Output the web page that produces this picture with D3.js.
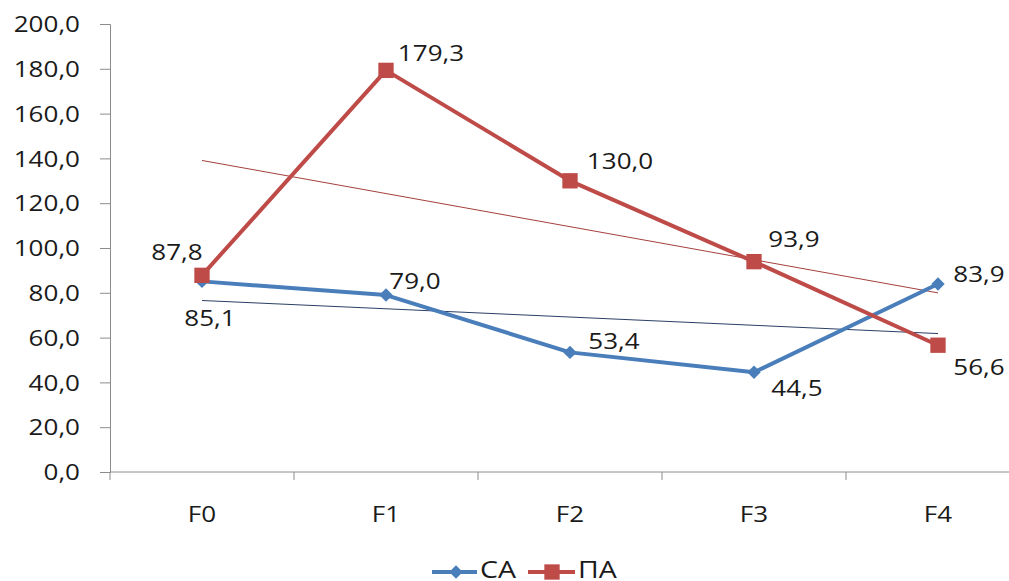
<!DOCTYPE html>
<html>
<head>
<meta charset="utf-8">
<script src="https://cdn.jsdelivr.net/npm/d3@7"></script>
<style>
  html, body { margin: 0; padding: 0; background: #fff; }
  svg { display: block; }
  text { font-family: "Open Sans", "Noto Sans", sans-serif; fill: #1a1a1a; }
</style>
</head>
<body>
<svg id="chart" width="1009" height="581"></svg>
<script>
// Categories and series values
const categories = ["F0", "F1", "F2", "F3", "F4"];
const seriesCA = [85.1, 79.0, 53.4, 44.5, 83.9];
const seriesPA = [87.8, 179.3, 130.0, 93.9, 56.6];
const seriesNames = ["СА", "ПА"];
const yTicks = [0, 20, 40, 60, 80, 100, 120, 140, 160, 180, 200];

const svg = d3.select("#chart");
const plot = { left: 110, right: 1030, top: 24, bottom: 472 };
const SX = 1.24; // horizontal stretch of the lettering

const x = d3.scaleBand().domain(categories).range([plot.left, plot.right]);
const y = d3.scaleLinear().domain([0, 200]).range([plot.bottom, plot.top]);
const cx = c => x(c) + x.bandwidth() / 2;
const fmt = v => d3.format(".1f")(v).replace(".", ",");

// Place a text at (px, py) with the wide lettering
function widen(sel, px, py) {
  sel.attr("transform", (d, i) => `translate(${px(d, i)},${py(d, i)}) scale(${SX},1)`)
     .attr("x", 0).attr("y", 0);
}

const axisColor = "#8c8c8c";

// Y axis
const yAxis = d3.axisLeft(y).tickValues(yTicks).tickSize(10).tickPadding(20).tickFormat(fmt);
const gy = svg.append("g").attr("transform", `translate(${plot.left},0)`).call(yAxis);
gy.select(".domain").attr("stroke", axisColor);
gy.selectAll(".tick line").attr("stroke", axisColor);
gy.selectAll(".tick text").attr("font-size", 21).attr("fill", "#1a1a1a")
  .attr("dy", null).attr("dominant-baseline", "middle")
  .style("font-family", "'Open Sans', sans-serif")
  .call(widen, () => -30, () => 2);

// X axis: ticks at category boundaries
const gx = svg.append("g").attr("transform", `translate(0,${plot.bottom})`);
gx.append("line").attr("x1", plot.left).attr("x2", plot.right).attr("stroke", axisColor);
const bounds = categories.map(c => x(c)).concat([plot.right]);
gx.selectAll("line.tk").data(bounds).enter().append("line").attr("class", "tk")
  .attr("x1", d => d).attr("x2", d => d).attr("y1", 0).attr("y2", 8).attr("stroke", axisColor);
gx.selectAll("text").data(categories).enter().append("text")
  .attr("text-anchor", "middle").attr("dominant-baseline", "middle")
  .attr("font-size", 21).text(d => d)
  .call(widen, d => cx(d), () => 44);

// Linear trend lines (least squares over category index)
function trend(vals) {
  const n = vals.length, xs = d3.range(n);
  const mx = d3.mean(xs), my = d3.mean(vals);
  const slope = d3.sum(xs, i => (i - mx) * (vals[i] - my)) / d3.sum(xs, i => (i - mx) ** 2);
  const b = my - slope * mx;
  return [0, n - 1].map(i => ({ i, v: b + slope * i }));
}
const trendLine = d3.line().x(d => cx(categories[d.i])).y(d => y(d.v));
svg.append("path").attr("d", trendLine(trend(seriesCA)))
  .attr("stroke", "#2b3f66").attr("stroke-width", 1).attr("fill", "none");
svg.append("path").attr("d", trendLine(trend(seriesPA)))
  .attr("stroke", "#a5403d").attr("stroke-width", 1).attr("fill", "none");

// Series lines
const line = d3.line().x((d, i) => cx(categories[i])).y(d => y(d));
const blue = "#4a7ebb", red = "#be4b48";
svg.append("path").attr("d", line(seriesCA)).attr("stroke", blue)
  .attr("stroke-width", 4).attr("fill", "none").attr("stroke-linejoin", "round");
svg.append("path").attr("d", line(seriesPA)).attr("stroke", red)
  .attr("stroke-width", 4).attr("fill", "none").attr("stroke-linejoin", "round");

// Markers
const diamond = d3.symbol().type(d3.symbolDiamond2).size(115);
const square = d3.symbol().type(d3.symbolSquare).size(235);
svg.selectAll("path.mCA").data(seriesCA).enter().append("path").attr("class", "mCA")
  .attr("d", diamond).attr("fill", blue)
  .attr("transform", (d, i) => `translate(${cx(categories[i])},${y(d)})`);
svg.selectAll("path.mPA").data(seriesPA).enter().append("path").attr("class", "mPA")
  .attr("d", square).attr("fill", red)
  .attr("transform", (d, i) => `translate(${cx(categories[i])},${y(d)})`);

// Data labels: offsets relative to each point
const offCA = [[8, 39], [29, -12], [44, -9], [43, 18], [41, -8]];
const offPA = [[-25, -21], [45, -15], [50, -17], [40, -20], [41, 24]];
function labels(vals, offs) {
  svg.append("g").selectAll("text").data(vals).enter().append("text")
    .attr("text-anchor", "middle").attr("dominant-baseline", "middle")
    .attr("font-size", 21).text(d => fmt(d))
    .call(widen, (d, i) => cx(categories[i]) + offs[i][0], (d, i) => y(d) + offs[i][1]);
}
labels(seriesCA, offCA);
labels(seriesPA, offPA);

// Legend
const lg = svg.append("g").attr("transform", `translate(0,572)`);
lg.append("line").attr("x1", 432).attr("x2", 477).attr("stroke", blue).attr("stroke-width", 4);
lg.append("path").attr("d", diamond).attr("fill", blue).attr("transform", "translate(456,0)");
lg.append("text").attr("dominant-baseline", "middle").attr("font-size", 23)
  .text(seriesNames[0]).call(widen, () => 480, () => 0);
lg.append("line").attr("x1", 528).attr("x2", 575).attr("stroke", red).attr("stroke-width", 4);
lg.append("path").attr("d", square).attr("fill", red).attr("transform", "translate(552,0)");
lg.append("text").attr("dominant-baseline", "middle").attr("font-size", 23)
  .text(seriesNames[1]).call(widen, () => 578, () => 0);
</script>
</body>
</html>
